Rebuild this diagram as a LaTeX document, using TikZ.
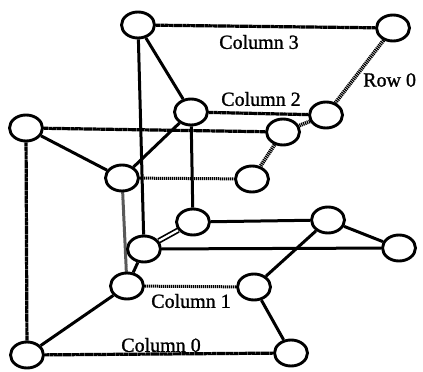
\documentclass[tikz,border=0pt]{standalone}
\usepackage{fontspec}
\setmainfont{Liberation Serif}[FakeBold=1.2]
\usetikzlibrary{shapes.geometric,backgrounds}
\begin{document}
\begin{tikzpicture}[x=1pt,y=-1pt,
  vtx/.style={ellipse,draw,fill=white,line width=2.9pt,minimum width=33pt,minimum height=26pt,inner sep=0pt},
  solidln/.style={line width=3pt},
  heavyln/.style={line width=3.2pt,dash pattern=on 4pt off 0.4pt},
  dotln/.style={line width=3pt,dash pattern=on 1.2pt off 0.8pt},
  ropeln/.style={line width=3.8pt,dash pattern=on 1.2pt off 0.8pt},
  dblln/.style={double,double distance=2.2pt,line width=1.7pt},
  lbl/.style={font=\fontsize{20}{24}\selectfont,inner sep=0pt}]
\useasboundingbox (0,0) rectangle (423,372);
\node[vtx] (A) at (138,25) {};
\node[vtx] (B) at (393,28) {};
\node[vtx] (C) at (191,112) {};
\node[vtx] (D) at (326,115) {};
\node[vtx] (E) at (283,132) {};
\node[vtx] (F) at (26,128) {};
\node[vtx] (G) at (122,178) {};
\node[vtx] (H) at (252,179) {};
\node[vtx] (N) at (193,222) {};
\node[vtx] (O) at (328,220) {};
\node[vtx] (I) at (144,249) {};
\node[vtx] (P) at (399,248) {};
\node[vtx] (L) at (127,286) {};
\node[vtx] (M) at (254,287) {};
\node[vtx] (J) at (27,355) {};
\node[vtx] (K) at (291,353) {};
\node[lbl] (c3) at (259,42) {Column 3};
\node[lbl] (c2) at (261,99) {Column 2};
\node[lbl] (c1) at (191,301) {Column 1};
\node[lbl] (c0) at (161,345) {Column 0};
\node[lbl,anchor=west] (r0) at (363,80) {Row 0};
\begin{scope}[on background layer]
\draw[heavyln] (A) -- (B);
\draw[solidln] (A) -- (C);
\draw[solidln] (A) -- (I);
\draw[ropeln] (B) -- (D);
\draw[ropeln] (D) -- (E);
\draw[ropeln] (E) -- (H);
\draw[heavyln] (C) -- (D);
\draw[solidln] (C) -- (G);
\draw[solidln] (C) -- (N);
\draw[heavyln] (F) -- (E);
\draw[solidln] (F) -- (G);
\draw[heavyln] (F) -- (J);
\draw[dotln] (G) -- (H);
\draw[dotln] (G) -- (L);
\draw[solidln] (N) -- (O);
\draw[dblln] (N) -- (I);
\draw[solidln] (I) -- (L);
\draw[solidln] (I) -- (P);
\draw[solidln] (O) -- (P);
\draw[solidln] (O) -- (M);
\draw[solidln] (M) -- (K);
\draw[dotln] (L) -- (M);
\draw[solidln] (L) -- (J);
\draw[heavyln] (J) -- (K);
\end{scope}
\end{tikzpicture}
\end{document}
